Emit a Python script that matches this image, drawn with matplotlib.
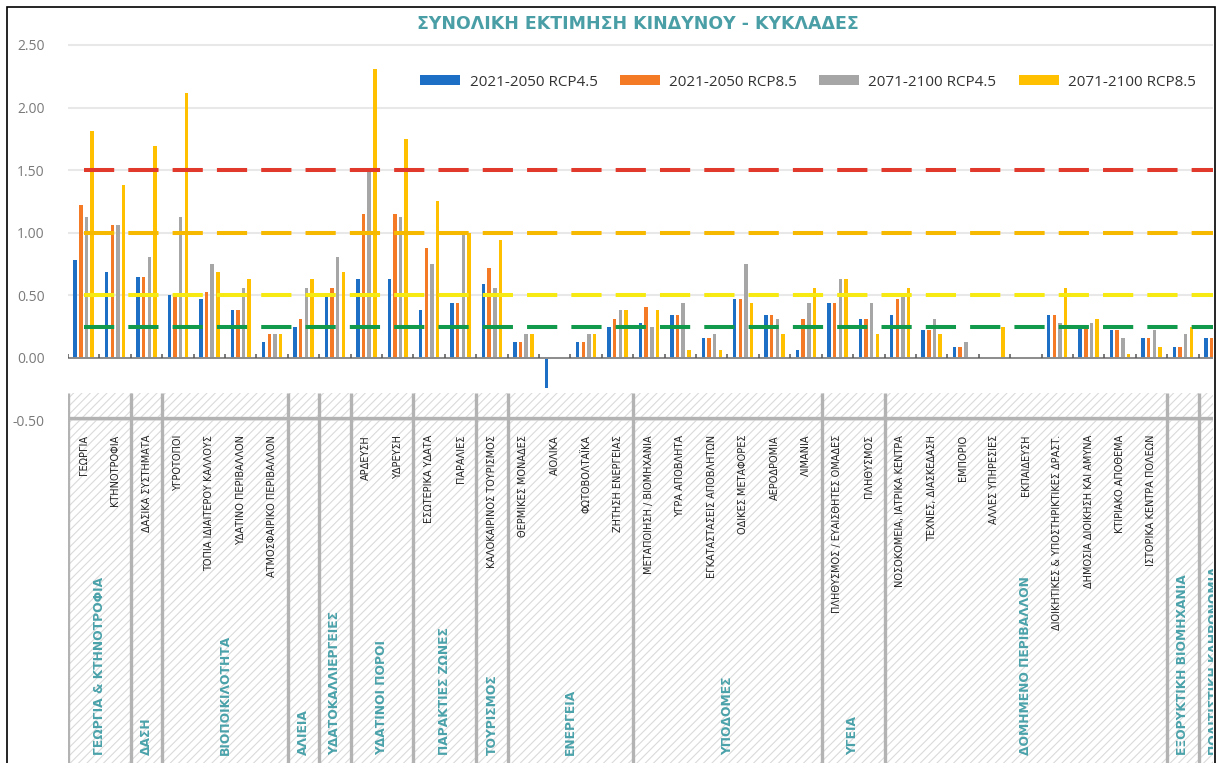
import matplotlib
matplotlib.use("Agg")
import matplotlib.pyplot as plt
from matplotlib.patches import Rectangle
import numpy as np

plt.rcParams['font.family'] = ['Open Sans', 'DejaVu Sans']
plt.rcParams['hatch.linewidth'] = 0.8

# sub-sectors (x axis, lower level); empty where the sector has a single entry
subsectors = [
    "ΓΕΩΡΓΙΑ", "ΚΤΗΝΟΤΡΟΦΙΑ", "ΔΑΣΙΚΑ ΣΥΣΤΗΜΑΤΑ", "ΥΓΡΟΤΟΠΟΙ",
    "ΤΟΠΙΑ ΙΔΙΑΙΤΕΡΟΥ ΚΑΛΛΟΥΣ", "ΥΔΑΤΙΝΟ ΠΕΡΙΒΑΛΛΟΝ", "ΑΤΜΟΣΦΑΙΡΙΚΟ ΠΕΡΙΒΑΛΛΟΝ",
    "", "", "ΑΡΔΕΥΣΗ", "ΥΔΡΕΥΣΗ", "ΕΣΩΤΕΡΙΚΑ ΥΔΑΤΑ", "ΠΑΡΑΛΙΕΣ",
    "ΚΑΛΟΚΑΙΡΙΝΟΣ ΤΟΥΡΙΣΜΟΣ", "ΘΕΡΜΙΚΕΣ ΜΟΝΑΔΕΣ", "ΑΙΟΛΙΚΑ", "ΦΩΤΟΒΟΛΤΑΪΚΑ",
    "ΖΗΤΗΣΗ ΕΝΕΡΓΕΙΑΣ", "ΜΕΤΑΠΟΙΗΣΗ / ΒΙΟΜΗΧΑΝΙΑ", "ΥΓΡΑ ΑΠΟΒΛΗΤΑ",
    "ΕΓΚΑΤΑΣΤΑΣΕΙΣ ΑΠΟΒΛΗΤΩΝ", "ΟΔΙΚΕΣ ΜΕΤΑΦΟΡΕΣ", "ΑΕΡΟΔΡΟΜΙΑ", "ΛΙΜΑΝΙΑ",
    "ΠΛΗΘΥΣΜΟΣ / ΕΥΑΙΣΘΗΤΕΣ ΟΜΑΔΕΣ", "ΠΛΗΘΥΣΜΟΣ", "ΝΟΣΟΚΟΜΕΙΑ, ΙΑΤΡΙΚΑ ΚΕΝΤΡΑ",
    "ΤΕΧΝΕΣ, ΔΙΑΣΚΕΔΑΣΗ", "ΕΜΠΟΡΙΟ", "ΑΛΛΕΣ ΥΠΗΡΕΣΙΕΣ", "ΕΚΠΑΙΔΕΥΣΗ",
    "ΔΙΟΙΚΗΤΙΚΕΣ & ΥΠΟΣΤΗΡΙΚΤΙΚΕΣ ΔΡΑΣΤ.", "ΔΗΜΟΣΙΑ ΔΙΟΙΚΗΣΗ ΚΑΙ ΑΜΥΝΑ",
    "ΚΤΙΡΙΑΚΟ ΑΠΟΘΕΜΑ", "ΙΣΤΟΡΙΚΑ ΚΕΝΤΡΑ ΠΟΛΕΩΝ", "", "",
]

# sectors (x axis, upper level) and how many sub-sectors each spans
sectors = [
    "ΓΕΩΡΓΙΑ & ΚΤΗΝΟΤΡΟΦΙΑ", "ΔΑΣΗ", "ΒΙΟΠΟΙΚΙΛΟΤΗΤΑ", "ΑΛΙΕΙΑ",
    "ΥΔΑΤΟΚΑΛΛΙΕΡΓΕΙΕΣ", "ΥΔΑΤΙΝΟΙ ΠΟΡΟΙ", "ΠΑΡΑΚΤΙΕΣ ΖΩΝΕΣ", "ΤΟΥΡΙΣΜΟΣ",
    "ΕΝΕΡΓΕΙΑ", "ΥΠΟΔΟΜΕΣ", "ΥΓΕΙΑ", "ΔΟΜΗΜΕΝΟ ΠΕΡΙΒΑΛΛΟΝ",
    "ΕΞΟΡΥΚΤΙΚΗ ΒΙΟΜΗΧΑΝΙΑ", "ΠΟΛΙΤΙΣΤΙΚΗ ΚΛΗΡΟΝΟΜΙΑ",
]
sector_sizes = [2, 1, 4, 1, 1, 2, 2, 1, 4, 6, 2, 9, 1, 1]

rcp45_2050 = [0.78, 0.69, 0.65, 0.50, 0.47, 0.38, 0.13, 0.25, 0.49, 0.63, 0.63,
              0.38, 0.44, 0.59, 0.13, -0.24, 0.13, 0.25, 0.28, 0.34, 0.16, 0.47,
              0.34, 0.06, 0.44, 0.31, 0.34, 0.22, 0.09, 0.00, 0.00, 0.34, 0.25,
              0.22, 0.16, 0.09, 0.16]
rcp85_2050 = [1.22, 1.06, 0.65, 0.50, 0.53, 0.38, 0.19, 0.31, 0.56, 1.15, 1.15,
              0.88, 0.44, 0.72, 0.13, 0.00, 0.13, 0.31, 0.41, 0.34, 0.16, 0.47,
              0.34, 0.31, 0.44, 0.31, 0.47, 0.22, 0.09, 0.00, 0.00, 0.34, 0.25,
              0.22, 0.16, 0.09, 0.16]
rcp45_2100 = [1.13, 1.06, 0.81, 1.13, 0.75, 0.56, 0.19, 0.56, 0.81, 1.50, 1.13,
              0.75, 1.00, 0.56, 0.19, 0.00, 0.19, 0.38, 0.25, 0.44, 0.19, 0.75,
              0.31, 0.44, 0.63, 0.44, 0.50, 0.31, 0.13, 0.00, 0.00, 0.28, 0.28,
              0.16, 0.22, 0.19, 0.19]
rcp85_2100 = [1.81, 1.38, 1.69, 2.12, 0.69, 0.63, 0.19, 0.63, 0.69, 2.31, 1.75,
              1.25, 1.00, 0.94, 0.19, 0.00, 0.19, 0.38, 0.38, 0.06, 0.06, 0.44,
              0.19, 0.56, 0.63, 0.19, 0.56, 0.19, 0.00, 0.25, 0.00, 0.56, 0.31,
              0.03, 0.09, 0.25, 0.25]

series_labels = ["2021-2050 RCP4.5", "2021-2050 RCP8.5",
                 "2071-2100 RCP4.5", "2071-2100 RCP8.5"]
series_colors = ["#1c6fc4", "#f47a26", "#a6a6a6", "#ffc000"]

# risk thresholds
thresholds = [1.5, 1.0, 0.5, 0.25]
threshold_colors = ["#e2392d", "#f7b800", "#f7ea12", "#119a4b"]

W, H = 1217, 763
fig = plt.figure(figsize=(W / 100, H / 100), dpi=100)


def box(x0, y0, x1, y1):
    # pixel box (top-left origin) -> figure fraction rect
    return [x0 / W, 1 - y1 / H, (x1 - x0) / W, (y1 - y0) / H]


ax = fig.add_axes(box(68, 38.7, 1213, 420.6))
ax.set_facecolor("none")
n = len(subsectors)
x = np.arange(n)

offsets = [-0.27, -0.09, 0.09, 0.27]
for vals, col, lbl, off in zip([rcp45_2050, rcp85_2050, rcp45_2100, rcp85_2100],
                               series_colors, series_labels, offsets):
    ax.bar(x + off, vals, width=0.11, color=col, label=lbl, zorder=2)

for lvl, col in zip(thresholds, threshold_colors):
    ax.plot(x, np.full(n, lvl), color=col, lw=2.9, dashes=(7.5, 3.5),
            solid_capstyle="butt", zorder=3)

ax.axhline(0, color="#8c8c8c", lw=1.4, zorder=2.5)
ax.vlines(np.arange(n + 1) - 0.5, 0, 0.035, color="#555555", lw=1.1, zorder=2.6)

ax.set_xlim(-0.5, 35.96)
ax.set_ylim(-0.5, 2.55)
yt = np.arange(-0.5, 2.51, 0.5)
ax.set_yticks(yt)
ax.set_yticklabels([f"{v:.2f}" for v in yt], color="#7a7a7a", fontsize=10)
ax.tick_params(axis="y", length=0, pad=17)
ax.set_xticks([])
ax.grid(axis="y", color="#e8e8e8", lw=1.5)
ax.set_axisbelow(True)
for s in ax.spines.values():
    s.set_visible(False)

ax.legend(ncol=4, loc="center left", bbox_to_anchor=(420 / W, 1 - 82 / H),
          bbox_transform=fig.transFigure, frameon=False, fontsize=11,
          handlelength=2.62, handleheight=0.59, handletextpad=0.62,
          columnspacing=1.45, borderpad=0, borderaxespad=0, labelcolor="#333333")

# two-level category axis below the plot
lab = fig.add_axes(box(68, 393, 1213, 763), sharex=ax)
lab.set_facecolor("none")
lab.set_ylim(763, 393)
lab.axis("off")
lab.set_zorder(ax.get_zorder() + 1)

lab.add_patch(Rectangle((-0.5, 393), n + 2, 370, hatch="////", facecolor="none",
                        edgecolor="#dadada", lw=0))
bounds = np.concatenate([[0], np.cumsum(sector_sizes)]) - 0.5
lab.vlines(bounds, 393, 763, color="#b3b3b3", lw=2.4)
lab.hlines(418, -0.5, n + 1, color="#b3b3b3", lw=2.4)

for i, name in enumerate(subsectors):
    if name:
        lab.text(i, 435, name, rotation=90, ha="center", va="top", fontsize=7,
                 family=["Liberation Sans Narrow", "DejaVu Sans"], color="#222222",
                 clip_on=True)

for name, b0, b1 in zip(sectors, bounds[:-1], bounds[1:]):
    lab.text((b0 + b1) / 2, 755, name, rotation=90, ha="center", va="bottom",
             fontsize=8.8, fontweight="bold", color="#4aa2aa", clip_on=True,
             family="DejaVu Sans")

fig.text(638 / W, 1 - 24 / H, "ΣΥΝΟΛΙΚΗ ΕΚΤΙΜΗΣΗ ΚΙΝΔΥΝΟΥ - ΚΥΚΛΑΔΕΣ",
         ha="center", va="center", fontsize=12.5, fontweight="bold", color="#4a9ea6",
         family="DejaVu Sans")

fig.add_artist(Rectangle((7 / W, -0.05), (1215 - 7) / W, 1.05 - 7 / H,
                         transform=fig.transFigure, fill=False,
                         edgecolor="black", lw=1.2))

fig.savefig("out.png", dpi=100)
